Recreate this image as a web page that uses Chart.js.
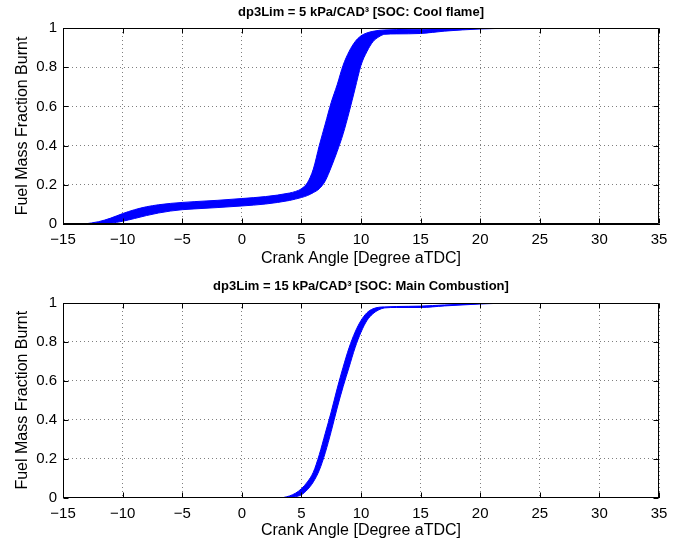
<!DOCTYPE html>
<html>
<head>
<meta charset="utf-8">
<script src="https://cdn.jsdelivr.net/npm/chart.js@4.4.1/dist/chart.umd.min.js"></script>
<style>
  html, body { margin: 0; padding: 0; background: #fff; }
  .panel { position: absolute; left: 0; width: 698px; height: 270px; }
</style>
</head>
<body>
<div class="panel" style="top:0px"><canvas id="coolFlameChart" width="698" height="270"></canvas></div>
<div class="panel" style="top:270px"><canvas id="mainCombChart" width="698" height="270"></canvas></div>
<script>
// crank angles [deg aTDC] and burnt fraction of the earliest / latest cycle, SOC from cool flame
const coolAngles   = [-13.2, -12, -11, -10, -9, -8, -7, -6, -5, -4, -2, 0, 2, 4, 4.5, 5, 5.5, 6, 6.5, 7, 7.5, 8, 8.5, 9, 9.5, 10, 10.5, 11, 11.5, 12, 13, 15, 17, 20, 23];
const coolEarliest = [0, 0.012, 0.03, 0.053, 0.073, 0.088, 0.098, 0.105, 0.11, 0.114, 0.121, 0.13, 0.14, 0.158, 0.166, 0.18, 0.21, 0.28, 0.40, 0.51, 0.62, 0.71, 0.81, 0.88, 0.93, 0.96, 0.975, 0.983, 0.988, 0.99, 0.992, 0.994, 0.998, 1, 1];
const coolLatest   = [0, 0, 0.004, 0.014, 0.028, 0.043, 0.056, 0.066, 0.073, 0.077, 0.084, 0.092, 0.102, 0.12, 0.127, 0.135, 0.145, 0.16, 0.18, 0.22, 0.29, 0.37, 0.46, 0.57, 0.69, 0.81, 0.88, 0.93, 0.955, 0.968, 0.97, 0.972, 0.984, 0.995, 1];

// same for SOC from main combustion
const mainAngles   = [3.5, 4, 4.5, 5, 5.5, 6, 6.5, 7, 7.5, 8, 8.5, 9, 9.5, 10, 10.5, 11, 11.5, 12, 13, 15, 17, 20, 22.3];
const mainEarliest = [0, 0.008, 0.022, 0.045, 0.08, 0.13, 0.22, 0.33, 0.44, 0.56, 0.67, 0.77, 0.85, 0.91, 0.95, 0.97, 0.978, 0.98, 0.982, 0.984, 0.99, 0.997, 1];
const mainLatest   = [0, 0, 0.004, 0.014, 0.04, 0.08, 0.14, 0.23, 0.34, 0.46, 0.57, 0.67, 0.77, 0.85, 0.91, 0.945, 0.965, 0.975, 0.977, 0.977, 0.985, 0.995, 1];

const xTickValues = [-15, -10, -5, 0, 5, 10, 15, 20, 25, 30, 35];
const xTickLabels = ['\u221215', '\u221210', '\u22125', '0', '5', '10', '15', '20', '25', '30', '35'];
const yTickValues = [0, 0.2, 0.4, 0.6, 0.8, 1];
const yTickLabels = ['0', '0.2', '0.4', '0.6', '0.8', '1'];

const FONT = '"Liberation Sans", Arial, Helvetica, sans-serif';
const BLUE = '#0000ff';
const GRID = 'rgba(0,0,0,0.5)';
const TITLE_SIZE = 13;

function toPoints(angles, values) {
    return angles.map((a, i) => ({ x: a, y: values[i] }));
}

// black box round the plot area with short inward ticks on all four sides
const boxTicks = {
    id: 'boxTicks',
    afterDatasetsDraw(chart) {
        const { ctx, chartArea: a, scales } = chart;
        const L = Math.round(a.left) + 0.5, R = Math.round(a.right) - 0.5;
        const T = Math.round(a.top) + 0.5, B = Math.round(a.bottom) - 0.5;
        const len = 5;
        ctx.save();
        ctx.strokeStyle = '#000';
        ctx.lineWidth = 1;
        ctx.beginPath();
        ctx.rect(L, T, R - L, B - T);
        xTickValues.forEach(v => {
            const px = Math.round(scales.x.getPixelForValue(v)) + 0.5;
            ctx.moveTo(px, B); ctx.lineTo(px, B - len);
            ctx.moveTo(px, T); ctx.lineTo(px, T + len);
        });
        yTickValues.forEach(v => {
            const py = Math.round(scales.y.getPixelForValue(v)) + 0.5;
            ctx.moveTo(L, py); ctx.lineTo(L + len, py);
            ctx.moveTo(R, py); ctx.lineTo(R - len, py);
        });
        ctx.stroke();
        ctx.restore();
    }
};

function makePanel(canvasId, titleText, angles, earliest, latest, box) {
    const ctx = document.getElementById(canvasId).getContext('2d');
    const titleLine = TITLE_SIZE * 1.2;
    new Chart(ctx, {
        type: 'line',
        data: {
            datasets: [{
                data: toPoints(angles, earliest),
                borderColor: BLUE,
                borderWidth: 1,
                pointRadius: 0,
                fill: false,
                cubicInterpolationMode: 'monotone'
            }, {
                data: toPoints(angles, latest),
                borderColor: BLUE,
                borderWidth: 1,
                pointRadius: 0,
                backgroundColor: BLUE,
                fill: '-1',
                cubicInterpolationMode: 'monotone'
            }]
        },
        options: {
            responsive: false,
            animation: false,
            events: [],
            layout: { padding: { left: 0, right: 39, top: 0, bottom: 0 } },
            plugins: {
                legend: { display: false },
                tooltip: { enabled: false },
                title: {
                    display: true,
                    text: titleText,
                    fullSize: false,
                    color: '#000',
                    font: { family: FONT, size: TITLE_SIZE, weight: 'bold' },
                    padding: {
                        top: box.titleY - titleLine / 2,
                        bottom: box.top - box.titleY - titleLine / 2
                    }
                }
            },
            scales: {
                x: {
                    type: 'linear',
                    min: -15,
                    max: 35,
                    afterBuildTicks: s => { s.ticks = xTickValues.map(v => ({ value: v })); },
                    afterFit: s => { s.height = 270 - box.bottom; },
                    grid: { color: GRID, lineWidth: 1, drawTicks: false },
                    border: { color: '#000', width: 1, dash: [1, 3] },
                    ticks: {
                        color: '#000',
                        font: { family: FONT, size: 15 },
                        padding: 7,
                        maxRotation: 0,
                        autoSkip: false,
                        callback: (v, i) => xTickLabels[i]
                    },
                    title: {
                        display: true,
                        text: 'Crank Angle [Degree aTDC]',
                        color: '#000',
                        font: { family: FONT, size: 16 },
                        padding: { top: 0, bottom: box.xTitlePad }
                    }
                },
                y: {
                    type: 'linear',
                    min: 0,
                    max: 1,
                    afterBuildTicks: s => { s.ticks = yTickValues.map(v => ({ value: v })); },
                    afterFit: s => { s.width = 63; },
                    grid: { color: GRID, lineWidth: 1, drawTicks: false },
                    border: { color: '#000', width: 1, dash: [1, 3] },
                    ticks: {
                        color: '#000',
                        font: { family: FONT, size: 15 },
                        padding: 6,
                        autoSkip: false,
                        callback: (v, i) => yTickLabels[i]
                    },
                    title: {
                        display: true,
                        text: 'Fuel Mass Fraction Burnt',
                        color: '#000',
                        font: { family: FONT, size: 16 },
                        padding: { top: 13.4, bottom: 0 }
                    }
                }
            }
        },
        plugins: [boxTicks]
    });
}

makePanel('coolFlameChart', 'dp3Lim = 5 kPa/CAD\u00b3 [SOC: Cool flame]',
    coolAngles, coolEarliest, coolLatest,
    { top: 28, bottom: 224, titleY: 12, xTitlePad: 1.6 });

makePanel('mainCombChart', 'dp3Lim = 15 kPa/CAD\u00b3 [SOC: Main Combustion]',
    mainAngles, mainEarliest, mainLatest,
    { top: 33, bottom: 227.5, titleY: 16, xTitlePad: 0 });
</script>
</body>
</html>
